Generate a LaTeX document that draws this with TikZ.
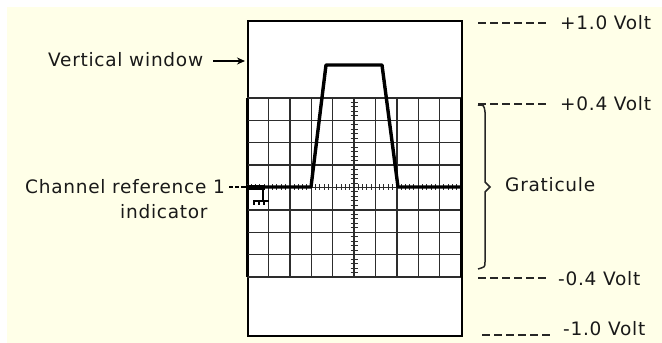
\documentclass[tikz,border=0pt]{standalone}
\usepackage{fontspec}
\setmainfont{DejaVu Sans}[LetterSpace=4]
\usetikzlibrary{arrows.meta}
\definecolor{cream}{RGB}{255,255,232}
\definecolor{gridc}{RGB}{45,45,45}
\begin{document}
\begin{tikzpicture}[x=1pt,y=-1pt,
  lbl/.style={inner sep=0pt,anchor=west,font=\fontsize{18.5}{21}\selectfont,text=black!90},
  dashline/.style={line width=2pt,dash pattern=on 8pt off 4pt,black!85},
  gridline/.style={line width=1.4pt,gridc},
  wave/.style={line width=3.4pt,line join=round},
  thinline/.style={line width=1.5pt,black!85}]
\useasboundingbox (0,0) rectangle (662,343);
\fill[white] (0,0) rectangle (662,343);
\fill[cream] (7,7) rectangle (662,343);
% vertical window
\fill[white] (247,20) rectangle (461,335);
\node[draw=black,line width=1.6pt,inner sep=0pt,minimum width=214pt,minimum height=315pt,anchor=north west] (win) at (247,20) {};
% graticule grid
\foreach \i in {0,...,10}{\draw[gridline] ({247+\i*21.4},98) -- ({247+\i*21.4},277);}
\foreach \j in {0,...,8}{\draw[gridline] (247,{98+\j*22.375}) -- (461,{98+\j*22.375});}
\draw[line width=2.8pt] (247,98) -- (247,277);
\draw[line width=2.8pt] (461,98) -- (461,277);
% minor ticks on centre lines
\foreach \k in {0,...,49}{\draw[line width=1pt,gridc] ({247+\k*4.28},184) -- ({247+\k*4.28},190);}
\foreach \k in {0,...,39}{\draw[line width=1pt,gridc] (350.5,{98+\k*4.475}) -- (357.5,{98+\k*4.475});}
% waveform
\draw[wave] (247,187) -- (311,187) -- (326,65) -- (382,65) -- (398,187) -- (461,187);
\draw[line width=5pt] (247,187) -- (265,187);
% ground symbol
\draw[line width=1.4pt] (263,187) -- (263,201);
\draw[line width=1.4pt] (253,201) -- (269,201);
\foreach \g in {254,259,264}{\draw[line width=1.3pt] (\g,201) -- (\g,205);}
% labels
\node[lbl] (vw) at (48,60) {Vertical window};
\coordinate (vwa) at (213,61);
\coordinate (vwb) at (245,61);
\draw[line width=1.8pt,-{Stealth[length=8pt,width=7pt]}] (vwa) -- (vwb);

\node[lbl] (p10) at (560,22.5) {+1.0 Volt};
\node[lbl] (p04) at (560,104) {+0.4 Volt};
\node[lbl] (m04) at (558,279) {-0.4 Volt};
\node[lbl] (m10) at (563,329) {-1.0 Volt};
\coordinate (d1a) at (478,23);  \coordinate (d1b) at (548,23);
\coordinate (d2a) at (478,104); \coordinate (d2b) at (548,104);
\coordinate (d3a) at (478,278); \coordinate (d3b) at (548,278);
\coordinate (d4a) at (482,335); \coordinate (d4b) at (552,335);
\draw[dashline] (d1a) -- (d1b);
\draw[dashline] (d2a) -- (d2b);
\draw[dashline] (d3a) -- (d3b);
\draw[dashline] (d4a) -- (d4b);

% brace
\node[lbl] (grat) at (505,185) {Graticule};
\coordinate (bt) at (478,105);
\coordinate (bb) at (478,269);
\draw[thinline] (bt) .. controls (484,105) .. (485,112) -- (485,182) -- (490,187) -- (485,192) -- (485,262) .. controls (485,267) .. (bb);

% channel reference
\node[lbl] (chr) at (25,187) {Channel reference 1};
\node[lbl] (ind) at (120,212) {indicator};
\coordinate (cra) at (229,187);
\coordinate (crb) at (247,187);
\draw[line width=1.4pt,dash pattern=on 4pt off 2pt on 4pt off 2pt on 20pt] (cra) -- (crb);
\end{tikzpicture}
\end{document}
